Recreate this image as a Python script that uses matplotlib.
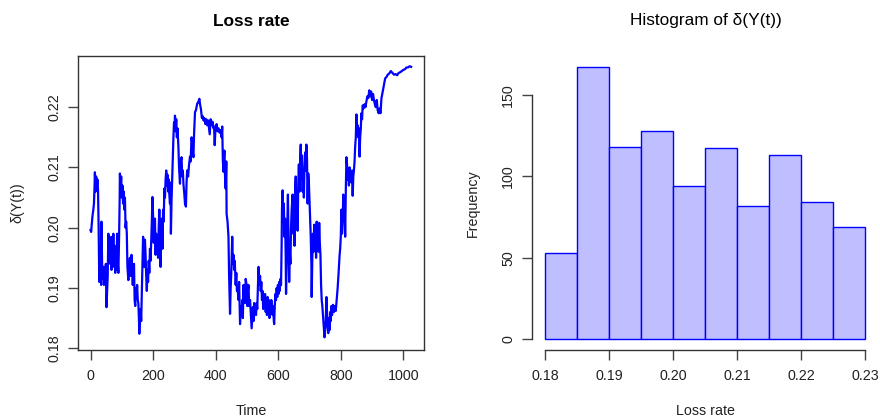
import matplotlib
matplotlib.use("Agg")
import matplotlib.pyplot as plt
import numpy as np

plt.rcParams['font.family'] = ['Liberation Sans', 'DejaVu Sans']

# ---- data ----
time = [0, 2, 4, 6, 9, 11, 13, 14, 16, 18, 20, 22, 24, 26, 28, 30, 32, 34, 35, 37, 39, 41, 43, 45, 47, 49,
        51, 53, 55, 57, 59, 61, 63, 65, 67, 69, 71, 73, 75, 77, 79, 81, 83, 85, 87, 89, 91, 93, 94, 96, 98,
        100, 102, 104, 106, 108, 110, 112, 114, 116, 118, 121, 123, 126, 128, 131, 133, 135, 137, 139, 141,
        143, 145, 147, 149, 151, 153, 155, 156, 158, 160, 162, 164, 166, 168, 170, 172, 174, 176, 178, 180,
        182, 184, 186, 188, 190, 192, 194, 196, 198, 200, 202, 204, 206, 208, 210, 212, 214, 216, 218, 220,
        222, 224, 226, 228, 230, 232, 234, 236, 238, 240, 242, 244, 246, 248, 250, 252, 254, 256, 257, 259,
        261, 263, 265, 267, 269, 270, 272, 274, 276, 278, 281, 283, 286, 288, 291, 293, 295, 297, 300, 302,
        305, 307, 309, 312, 315, 318, 320, 323, 325, 327, 329, 331, 334, 337, 341, 344, 348, 350, 353, 356,
        359, 361, 364, 367, 370, 373, 376, 379, 381, 384, 387, 390, 393, 395, 397, 399, 403, 406, 409, 412,
        415, 419, 421, 423, 425, 427, 428, 430, 432, 434, 435, 438, 441, 443, 446, 448, 450, 453, 455, 457,
        459, 461, 464, 466, 468, 470, 473, 475, 477, 478, 480, 483, 485, 487, 489, 491, 494, 496, 499, 501,
        503, 505, 507, 510, 512, 515, 517, 519, 521, 523, 525, 527, 529, 531, 533, 535, 537,
        540, 542, 544, 546, 548, 550, 552, 554, 556, 558, 560, 562, 564, 566, 568, 570, 572, 574, 576, 578,
        580, 582, 584, 586, 587, 589, 591, 593, 595, 597, 599, 601, 603, 605, 607, 609, 611, 612, 614, 616,
        618, 620, 622, 624, 625, 627, 629, 631, 633, 635, 637, 639, 641, 643, 646, 648, 650, 652, 654, 656,
        658, 660, 662, 664, 666, 668, 670, 672, 674, 676, 678, 680, 682, 684, 686, 688, 690, 692, 694, 696,
        698, 700, 702, 704, 706, 707, 709, 711, 713, 715, 717, 719, 721, 723, 725, 727, 729, 731, 733, 735,
        737, 739, 741, 743, 745, 748, 750, 752, 754, 756, 758, 760, 762, 764, 766, 768, 770, 772, 775, 778,
        781, 784, 787, 790, 793, 796, 798, 800, 802, 804, 806, 808, 810, 812, 814, 816, 818, 820, 822, 824,
        826, 828, 830, 832, 834, 836, 838, 840, 842, 844, 846, 848, 850, 852, 854, 856, 858, 860, 862, 864,
        866, 868, 870, 873, 876, 879, 882, 885, 888, 891, 894, 897, 900, 903, 906, 909, 912, 915, 918, 921,
        924, 927, 930, 933, 936, 939, 942, 946, 950, 955, 960, 965, 970, 975, 980, 985, 990, 995, 1000,
        1005, 1010, 1015, 1020, 1025]

loss_rate = [0.1996, 0.1993, 0.2005, 0.2018, 0.2030, 0.2040, 0.2070, 0.2092, 0.2060, 0.2085, 0.2065, 0.2080,
             0.2062, 0.2000, 0.1910, 0.1920, 0.1950, 0.1905, 0.2010, 0.1940, 0.1915, 0.1935, 0.1905, 0.1930,
             0.1920, 0.1940, 0.1868, 0.1895, 0.1920, 0.1990, 0.1960, 0.1985, 0.1940, 0.1975, 0.1930, 0.1985,
             0.1950, 0.1990, 0.1935, 0.1970, 0.1925, 0.1960, 0.1930, 0.1990, 0.1945, 0.1925, 0.1975, 0.2040,
             0.2090, 0.2060, 0.2085, 0.2050, 0.2070, 0.2040, 0.2060, 0.2030, 0.2050, 0.2000, 0.2010, 0.1990,
             0.1935, 0.1913, 0.1935, 0.1950, 0.1920, 0.1955, 0.1935, 0.1905, 0.1930, 0.1940, 0.1880, 0.1870,
             0.1900, 0.1885, 0.1905, 0.1880, 0.1874, 0.1845, 0.1824, 0.1850, 0.1865, 0.1845, 0.1890, 0.1930,
             0.1985, 0.1975, 0.1935, 0.1980, 0.1955, 0.1920, 0.1895, 0.1930, 0.1910, 0.1945, 0.1925, 0.1965,
             0.1945, 0.1975, 0.2010, 0.2051, 0.2020, 0.1975, 0.2005, 0.2015, 0.1955, 0.1990, 0.1960, 0.1985,
             0.1950, 0.2000, 0.2030, 0.1985, 0.1935, 0.1990, 0.2015, 0.1965, 0.2030, 0.2010, 0.2065, 0.2050,
             0.2080, 0.2095, 0.2070, 0.2088, 0.2060, 0.2080, 0.2055, 0.2040, 0.2075, 0.1990, 0.2045, 0.2080,
             0.2110, 0.2150, 0.2175, 0.2165, 0.2186, 0.2160, 0.2180, 0.2150, 0.2165, 0.2134, 0.2100, 0.2073,
             0.2110, 0.2117, 0.2085, 0.2095, 0.2073, 0.2055, 0.2040, 0.2035, 0.2075, 0.2095, 0.2085, 0.2105,
             0.2118, 0.2110, 0.2150, 0.2140, 0.2125, 0.2117, 0.2155, 0.2192, 0.2195, 0.2206, 0.2208, 0.2214,
             0.2205, 0.2197, 0.2182, 0.2185, 0.2178, 0.2182, 0.2172, 0.2180, 0.2170, 0.2178, 0.2165, 0.2155,
             0.2180, 0.2170, 0.2176, 0.2165, 0.2168, 0.2137, 0.2160, 0.2172, 0.2160, 0.2165, 0.2158, 0.2162,
             0.2150, 0.2168, 0.2112, 0.2093, 0.2120, 0.2128, 0.2085, 0.2065, 0.2110, 0.2023, 0.2010, 0.1985,
             0.1920, 0.1857, 0.1900, 0.1925, 0.1985, 0.1940, 0.1955, 0.1930, 0.1945, 0.1905, 0.1925, 0.1895,
             0.1900, 0.1880, 0.1910, 0.1860, 0.1840, 0.1870, 0.1855, 0.1880, 0.1850, 0.1905, 0.1880, 0.1875,
             0.1915, 0.1905, 0.1870, 0.1895, 0.1905, 0.1870, 0.1880, 0.1860, 0.1833, 0.1850, 0.1868, 0.1845,
             0.1875, 0.1860, 0.1870, 0.1855, 0.1875, 0.1865, 0.1900, 0.1935,
             0.1905, 0.1920, 0.1895, 0.1910, 0.1880, 0.1895, 0.1865, 0.1885, 0.1870, 0.1890, 0.1860, 0.1875,
             0.1855, 0.1885, 0.1865, 0.1880, 0.1850, 0.1870, 0.1860, 0.1880, 0.1865, 0.1855, 0.1870, 0.1845,
             0.1840, 0.1870, 0.1890, 0.1880, 0.1900, 0.1885, 0.1905, 0.1890, 0.1910, 0.1895, 0.1915, 0.1905,
             0.1975, 0.2030, 0.2062, 0.2010, 0.2040, 0.1985, 0.2015, 0.1950, 0.1890, 0.1950, 0.2000, 0.2055,
             0.1985, 0.1910, 0.1960, 0.1940, 0.2000, 0.2030, 0.2055, 0.1990, 0.2040, 0.1970, 0.2060, 0.2085,
             0.2020, 0.2060, 0.1995, 0.2070, 0.2105, 0.2060, 0.2110, 0.2138, 0.2080, 0.2120, 0.2060, 0.2095,
             0.2050, 0.2100, 0.2125, 0.2095, 0.2138, 0.2115, 0.2040, 0.2090, 0.2075, 0.2045, 0.2015, 0.1985,
             0.1940, 0.1885, 0.1950, 0.1990, 0.1960, 0.2005, 0.1965, 0.1995, 0.1950, 0.2010, 0.1970, 0.1995,
             0.1960, 0.2008, 0.1975, 0.1955, 0.1905, 0.1880, 0.1870, 0.1855, 0.1840, 0.1818, 0.1830, 0.1845,
             0.1885, 0.1860, 0.1835, 0.1825, 0.1850, 0.1830, 0.1860, 0.1845, 0.1870, 0.1855, 0.1872, 0.1860,
             0.1870, 0.1862, 0.1880, 0.1900, 0.1925, 0.1953, 0.1965, 0.1985, 0.2030, 0.1990, 0.2010, 0.2055,
             0.2020, 0.2040, 0.1985, 0.2060, 0.2117, 0.2105, 0.2080, 0.2095, 0.2070, 0.2100, 0.2080, 0.2090,
             0.2075, 0.2095, 0.2053, 0.2085, 0.2095, 0.2110, 0.2135, 0.2150, 0.2188, 0.2160, 0.2170, 0.2150,
             0.2165, 0.2118, 0.2150, 0.2165, 0.2190, 0.2180, 0.2203, 0.2198, 0.2205, 0.2200, 0.2210, 0.2218,
             0.2215, 0.2228, 0.2218, 0.2226, 0.2212, 0.2222, 0.2212, 0.2205, 0.2200, 0.2212, 0.2195, 0.2190,
             0.2198, 0.2190, 0.2215, 0.2223, 0.2232, 0.2240, 0.2248, 0.2250, 0.2254, 0.2256, 0.2260, 0.2257,
             0.2254, 0.2255, 0.2253, 0.2257, 0.2258, 0.2260, 0.2262, 0.2263, 0.2266, 0.2266, 0.2268, 0.2267]

bin_edges = [0.180, 0.185, 0.190, 0.195, 0.200, 0.205, 0.210, 0.215, 0.220, 0.225, 0.230]
frequency = [53, 167, 118, 128, 94, 117, 82, 113, 84, 69]

time_ticks = [0, 200, 400, 600, 800, 1000]
rate_ticks = [0.18, 0.19, 0.20, 0.21, 0.22]
hist_xticks = [0.18, 0.19, 0.20, 0.21, 0.22, 0.23]
freq_ticks = [0, 50, 100, 150]

# ---- figure ----
W, H = 880, 419
fig = plt.figure(figsize=(W / 100, H / 100), dpi=100)
fig.patch.set_facecolor('white')

def fx(px):
    return px / W

def fy(py):
    return 1 - py / H

TXT = '#222222'
TICK_FS = 10.3
LAB_FS = 10.3
TITLE_FS = 12.4

# left panel: time series
ax1 = fig.add_axes([fx(78), fy(350), fx(424) - fx(78), fy(56) - fy(350)])
ax1.plot(time, loss_rate, color='#0000FF', lw=1.6, solid_joinstyle='round')
ax1.set_xlim(-40, 1066)
ax1.set_ylim(0.1797, 0.2285)
ax1.set_xticks(time_ticks)
ax1.set_xticklabels([str(t) for t in time_ticks])
ax1.set_yticks(rate_ticks)
ax1.set_yticklabels([f"{v:.2f}" for v in rate_ticks])
for sp in ax1.spines.values():
    sp.set_color('#333333')
    sp.set_linewidth(1.0)
ax1.tick_params(axis='both', direction='out', length=7, width=1.0, color='#444444',
                labelsize=TICK_FS, labelcolor=TXT)
ax1.tick_params(axis='x', pad=7)
ax1.tick_params(axis='y', pad=5)
for lab in ax1.get_yticklabels():
    lab.set_rotation(90)
    lab.set_va('center')
    lab.set_ha('right')

# right panel: histogram
ax2 = fig.add_axes([fx(532), fy(350), fx(878) - fx(532), fy(56) - fy(350)])
widths = np.diff(bin_edges)
ax2.bar(bin_edges[:-1], frequency, width=widths, align='edge',
        color='#BFBFFF', edgecolor='#0000FF', linewidth=1.0)
ax2.set_xlim(0.178, 0.232)
ax2.set_ylim(-6.6, 173.7)
ax2.set_xticks(hist_xticks)
ax2.set_xticklabels([f"{v:.2f}" for v in hist_xticks])
ax2.set_yticks(freq_ticks)
ax2.set_yticklabels([str(v) for v in freq_ticks])
ax2.spines['top'].set_visible(False)
ax2.spines['right'].set_visible(False)
ax2.spines['bottom'].set_bounds(hist_xticks[0], hist_xticks[-1])
ax2.spines['left'].set_bounds(freq_ticks[0], freq_ticks[-1])
for sp in ('bottom', 'left'):
    ax2.spines[sp].set_color('#333333')
    ax2.spines[sp].set_linewidth(1.0)
ax2.tick_params(axis='both', direction='out', length=7, width=1.0, color='#444444',
                labelsize=TICK_FS, labelcolor=TXT)
ax2.tick_params(axis='x', pad=7)
ax2.tick_params(axis='y', pad=5)
for lab in ax2.get_yticklabels():
    lab.set_rotation(90)
    lab.set_va('center')
    lab.set_ha('right')

# titles and axis labels
fig.text(fx(251), fy(22), "Loss rate", ha='center', va='center',
         fontsize=TITLE_FS, fontweight='bold', color='black')
fig.text(fx(251), fy(411), "Time", ha='center', va='center', fontsize=LAB_FS, color=TXT)
fig.text(fx(17), fy(203), "δ(Y(t))", ha='center', va='center', rotation=90,
         fontsize=LAB_FS, color=TXT)

fig.text(fx(706), fy(21), "Histogram of δ(Y(t))", ha='center', va='center',
         fontsize=TITLE_FS, color='black')
fig.text(fx(705), fy(411), "Loss rate", ha='center', va='center', fontsize=LAB_FS, color=TXT)
fig.text(fx(473), fy(203), "Frequency", ha='center', va='center', rotation=90,
         fontsize=LAB_FS, color=TXT)

fig.savefig("out.png", dpi=100, facecolor='white')
